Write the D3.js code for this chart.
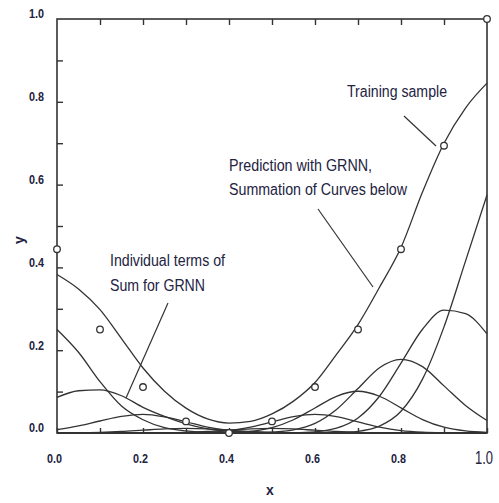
<!DOCTYPE html>
<html><head><meta charset="utf-8">
<script src="https://cdn.jsdelivr.net/npm/d3@7"></script>
<style>body{margin:0;background:#fff}svg{display:block}</style>
</head><body><svg id="c" width="499" height="503"></svg>
<script>
// ---- data ----
const xGrid = [0,0.05,0.1,0.15,0.2,0.25,0.3,0.35,0.4,0.45,0.5,0.55,0.6,0.65,0.7,0.75,0.8,0.85,0.9,0.95,1.0];
const sumCurve = [0.383,0.348,0.298,0.228,0.157,0.101,0.060,0.034,0.024,0.028,0.046,0.077,0.122,0.190,0.262,0.352,0.448,0.582,0.700,0.785,0.845];
const term0  = [0.250,0.195,0.124,0.065,0.032,0.013,0.005,0.001,0,0,0,0,0,0,0,0,0,0,0,0,0];
const term1  = [0.086,0.102,0.104,0.090,0.062,0.040,0.022,0.010,0.004,0.001,0,0,0,0,0,0,0,0,0,0,0];
const term2  = [0.008,0.017,0.029,0.040,0.045,0.039,0.027,0.014,0.006,0.002,0.0005,0.0001,0,0,0,0,0,0,0,0,0];
const term3  = [0.0002,0.0005,0.0015,0.0036,0.0068,0.0099,0.0112,0.0099,0.0067,0.0036,0.0015,0.0005,0.0001,0,0,0,0,0,0,0,0];
const term4  = [0,0,0,0,0,0,0,0,0,0,0,0,0,0,0,0,0,0,0,0,0];
const term5  = [0,0,0,0,0.0001,0.0005,0.0015,0.0036,0.0067,0.0099,0.0112,0.0099,0.0067,0.0036,0.0015,0.0005,0.0001,0,0,0,0];
const term6  = [0,0,0,0,0,0.0001,0.0005,0.0018,0.0058,0.0142,0.0269,0.0394,0.0448,0.0394,0.0269,0.0142,0.0058,0.0019,0.0005,0.0001,0];
const term7  = [0,0,0,0,0,0,0,0.0002,0.001,0.0041,0.0131,0.032,0.0605,0.0887,0.1008,0.0888,0.0607,0.0325,0.0139,0.0049,0.0015];
const term8  = [0,0,0,0,0,0,0,0,0,0.0003,0.0018,0.0074,0.0232,0.0568,0.1074,0.1577,0.178,0.1603,0.1138,0.0664,0.030];
const term9  = [0,0,0,0,0,0,0,0,0,0,0.0001,0.0005,0.0028,0.0115,0.0363,0.0888,0.1686,0.2506,0.2966,0.2881,0.2393];
const term10 = [0,0,0,0,0,0,0,0,0,0,0,0,0.0001,0.0008,0.0041,0.0166,0.0525,0.1301,0.2564,0.4151,0.5747];
const sampleX = [0,0.1,0.2,0.3,0.4,0.5,0.6,0.7,0.8,0.9,1.0];
const sampleY = [0.444,0.25,0.111,0.028,0,0.028,0.111,0.25,0.444,0.694,1.0];
const minorTicks = [0,0.1,0.2,0.3,0.4,0.5,0.6,0.7,0.8,0.9,1.0];
const xTickValues = [0,0.2,0.4,0.6,0.8];
const xTickLabels = ["0.0","0.2","0.4","0.6","0.8"];
const xLastLabel = "1.0";
const yTickValues = [0,0.2,0.4,0.6,0.8,1.0];
const yTickLabels = ["0.0","0.2","0.4","0.6","0.8","1.0"];
const terms = [term0,term1,term2,term3,term4,term5,term6,term7,term8,term9,term10];

// ---- drawing ----
const svg = d3.select("#c");
svg.append("rect").attr("width",499).attr("height",503).attr("fill","#fff");
const L=57,R=487,T=19,B=433;
const x = d3.scaleLinear().domain([0,1]).range([L,R]);
const y = d3.scaleLinear().domain([0,1]).range([B,T]);
const ink = "#333";
const txt = "#23233f";
const narrow = "'Liberation Sans Narrow','Arial Narrow','Liberation Sans',Arial,sans-serif";

// frame
svg.append("rect").attr("x",L).attr("y",T).attr("width",R-L).attr("height",B-T)
  .attr("fill","none").attr("stroke",ink).attr("stroke-width",1.6);

// inward ticks
const gb = svg.append("g").attr("transform",`translate(0,${B})`)
  .call(d3.axisBottom(x).tickValues(minorTicks).tickSize(-5).tickFormat(""));
const gt = svg.append("g").attr("transform",`translate(0,${T})`)
  .call(d3.axisTop(x).tickValues(minorTicks.slice(1,-1)).tickSize(-6).tickFormat(""));
const gl = svg.append("g").attr("transform",`translate(${L},0)`)
  .call(d3.axisLeft(y).tickValues(minorTicks.slice(1,-1)).tickSize(-6).tickFormat(""));
[gb,gt,gl].forEach(g=>{g.select(".domain").remove();g.selectAll("line").attr("stroke",ink).attr("stroke-width",1.4);});

// y tick labels
const yl = svg.append("g").attr("transform",`translate(${L},0)`)
  .call(d3.axisLeft(y).tickValues(yTickValues).tickSize(0).tickPadding(13)
    .tickFormat((d,i)=>yTickLabels[i]));
yl.select(".domain").remove();
yl.selectAll("text").attr("font-family",narrow).attr("font-size",12).attr("font-weight","bold")
  .attr("fill",txt).attr("dy","-0.1em").attr("textLength",15).attr("lengthAdjust","spacingAndGlyphs");

// x tick labels
const xl = svg.append("g").attr("transform",`translate(0,${B})`)
  .call(d3.axisBottom(x).tickValues(xTickValues).tickSize(0).tickPadding(21)
    .tickFormat((d,i)=>xTickLabels[i]));
xl.select(".domain").remove();
xl.selectAll("text").attr("font-family",narrow).attr("font-size",12).attr("font-weight","bold")
  .attr("fill",txt).attr("dx",-3).attr("textLength",15).attr("lengthAdjust","spacingAndGlyphs");
svg.append("text").attr("x",484).attr("y",B+31).attr("text-anchor","middle")
  .attr("font-family",narrow).attr("font-size",18).attr("fill",txt)
  .attr("textLength",18).attr("lengthAdjust","spacingAndGlyphs").text(xLastLabel);

// axis titles
svg.append("text").attr("x",270).attr("y",495).attr("text-anchor","middle")
  .attr("font-family",narrow).attr("font-size",14).attr("font-weight","bold").attr("fill",txt).text("x");
svg.append("text").attr("transform","translate(24,240) rotate(-90)").attr("text-anchor","middle")
  .attr("font-family",narrow).attr("font-size",14).attr("font-weight","bold").attr("fill",txt).text("y");

// curves
const line = d3.line().x(d=>x(d[0])).y(d=>y(d[1])).curve(d3.curveMonotoneX);
terms.forEach(t=>{
  svg.append("path").attr("d",line(xGrid.map((v,i)=>[v,t[i]])))
    .attr("fill","none").attr("stroke",ink).attr("stroke-width",1.3);
});
svg.append("path").attr("d",line(xGrid.map((v,i)=>[v,sumCurve[i]])))
  .attr("fill","none").attr("stroke",ink).attr("stroke-width",1.3);

// training samples
svg.append("g").selectAll("circle").data(sampleX).join("circle")
  .attr("cx",d=>x(d)).attr("cy",(d,i)=>y(sampleY[i])).attr("r",3.3)
  .attr("fill","#fff").attr("stroke",ink).attr("stroke-width",1.3);

// annotations
function label(t,xp,yp,w){
  svg.append("text").attr("x",xp).attr("y",yp).attr("font-family",narrow).attr("font-size",16)
    .attr("fill",txt).attr("textLength",w).attr("lengthAdjust","spacingAndGlyphs").text(t);
}
label("Training sample",347,97,100);
label("Prediction with GRNN,",229,171,143);
label("Summation of Curves below",229,195,178);
label("Individual terms of",110,266,115);
label("Sum for GRNN",110,291,95);
const leaders = [[404,116,436,146],[318,209,373,287],[168,303,126,398]];
svg.append("g").selectAll("line").data(leaders).join("line")
  .attr("x1",d=>d[0]).attr("y1",d=>d[1]).attr("x2",d=>d[2]).attr("y2",d=>d[3])
  .attr("stroke",ink).attr("stroke-width",1.2);
</script></body></html>
